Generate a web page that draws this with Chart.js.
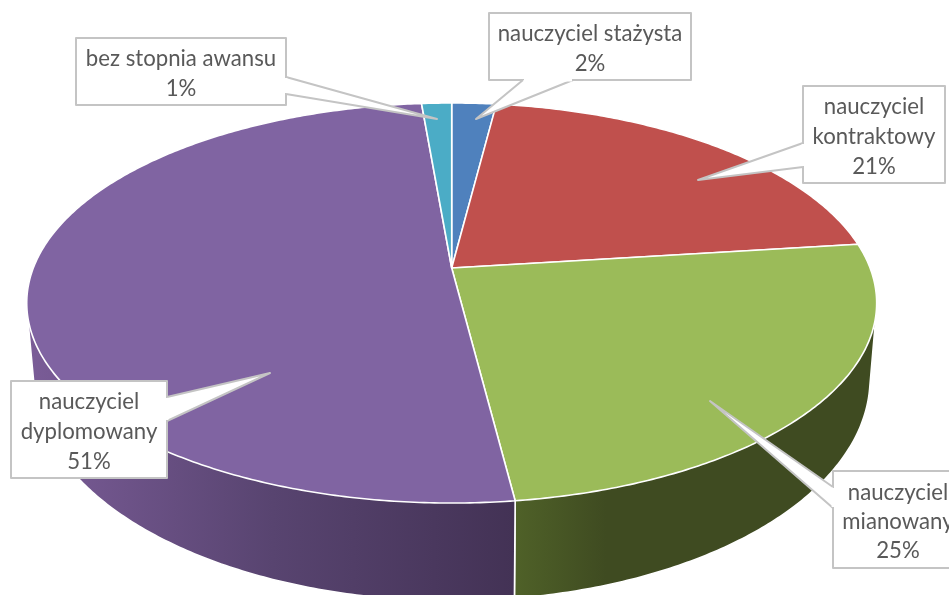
<!DOCTYPE html>
<html lang="pl">
<head>
<meta charset="utf-8">
<script src="https://cdn.jsdelivr.net/npm/chart.js@4"></script>
<style>
html,body{margin:0;padding:0;background:#fff;overflow:hidden}
canvas{display:block}
</style>
</head>
<body>
<canvas id="c" width="949" height="595"></canvas>
<script>
// --- data ---
const categories = ['nauczyciel stażysta','nauczyciel kontraktowy','nauczyciel mianowany','nauczyciel dyplomowany','bez stopnia awansu'];
const values = [2, 21, 25, 50.65, 1.35];
const labelLines = [['nauczyciel stażysta'],['nauczyciel','kontraktowy'],['nauczyciel','mianowany'],['nauczyciel','dyplomowany'],['bez stopnia awansu']];

// --- style ---
const topColors = ['#4f81bd','#c0504d','#9bbb59','#8064a2','#4bacc6'];
const wallStops = [
  [[0,'#2c4d75'],[1,'#2c4d75']],
  [[0,'#772c2a'],[1,'#772c2a']],
  [[0,'#4f6128'],[0.25,'#3f4b21'],[1,'#3f4b21']],
  [[0,'#7a5c97'],[0.5,'#584470'],[1,'#433255']],
  [[0,'#276a7c'],[1,'#276a7c']]
];
const wallGrad = [[0,949],[0,949],[515,880],[30,515],[0,949]];
// projection of the pie disc: top face and bottom rim
const topRim = {cx:451.7, y0:268, A:418.4, B:193.9, k:-0.175};
const lowRim = {cx:452, y0:340, A:411.6, B:215.2, k:-0.175};
// callouts: box [x0,y0,x1,y1], wedge polygon between box and tip, text centre, baselines
const callouts = [
  {box:[489,13,691,80], wedge:[[523,80],[476,119],[573,80]], tx:590, base:[41,71]},
  {box:[803,86,945,183], wedge:[[803,143],[698,180],[803,167]], tx:874, base:[114,144,174]},
  {box:[833,471,963,568], wedge:[[833,487],[710,401],[833,508]], tx:898, base:[500,529,558]},
  {box:[11,381,167,478], wedge:[[167,397],[270,373],[167,421]], tx:89, base:[409,439,469]},
  {box:[76,38,286,105], wedge:[[286,77],[437,119],[286,94]], tx:181, base:[66,96]}
];

function proj(p, a){
  const u = Math.cos(a), v = Math.sin(a), d = 1 + p.k * v;
  return [p.cx + p.A * u / d, p.y0 + p.B * v / d];
}
function arcPts(p, s, e){
  const n = Math.max(4, Math.ceil(Math.abs(e - s) / 0.01)), out = [];
  for (let i = 0; i <= n; i++) out.push(proj(p, s + (e - s) * i / n));
  return out;
}
function hull(pts){
  const a = pts.slice().sort((p, q) => p[0] - q[0] || p[1] - q[1]);
  const cross = (o, p, q) => (p[0]-o[0])*(q[1]-o[1]) - (p[1]-o[1])*(q[0]-o[0]);
  const lo = [], up = [];
  a.forEach(p => { while (lo.length > 1 && cross(lo[lo.length-2], lo[lo.length-1], p) <= 0) lo.pop(); lo.push(p); });
  a.slice().reverse().forEach(p => { while (up.length > 1 && cross(up[up.length-2], up[up.length-1], p) <= 0) up.pop(); up.push(p); });
  lo.pop(); up.pop();
  return lo.concat(up);
}

const pie3d = {
  id:'pie3d',
  beforeDatasetDraw(chart){
    const ctx = chart.ctx, arcs = chart.getDatasetMeta(0).data;
    ctx.save();
    ctx.lineJoin = 'round';
    // side walls
    arcs.forEach((el, i) => {
      const s = el.startAngle, e = el.endAngle;
      const pts = hull(arcPts(topRim, s, e).concat(arcPts(lowRim, e, s)));
      const g = ctx.createLinearGradient(wallGrad[i][0], 0, wallGrad[i][1], 0);
      wallStops[i].forEach(st => g.addColorStop(st[0], st[1]));
      ctx.beginPath();
      pts.forEach((q, j) => j ? ctx.lineTo(q[0], q[1]) : ctx.moveTo(q[0], q[1]));
      ctx.closePath();
      ctx.fillStyle = g; ctx.fill();
      ctx.strokeStyle = '#fff'; ctx.lineWidth = 1.6; ctx.stroke();
    });
    // top face
    arcs.forEach((el, i) => {
      const pts = arcPts(topRim, el.startAngle, el.endAngle);
      ctx.beginPath();
      ctx.moveTo(topRim.cx, topRim.y0);
      pts.forEach(q => ctx.lineTo(q[0], q[1]));
      ctx.closePath();
      ctx.fillStyle = topColors[i]; ctx.fill();
      ctx.strokeStyle = '#fff'; ctx.lineWidth = 1.6; ctx.stroke();
    });
    ctx.restore();
    return false;
  },
  afterDraw(chart){
    const ctx = chart.ctx;
    const total = values.reduce((a, b) => a + b, 0);
    ctx.save();
    ctx.lineJoin = 'round';
    callouts.forEach((c, i) => {
      const [x0, y0, x1, y1] = c.box, w = c.wedge;
      ctx.beginPath();
      ctx.rect(x0, y0, x1 - x0, y1 - y0);
      ctx.fillStyle = '#fff'; ctx.strokeStyle = '#c4c4c4'; ctx.lineWidth = 2;
      ctx.fill();
      ctx.stroke();
      ctx.beginPath();
      w.forEach((q, j) => j ? ctx.lineTo(q[0], q[1]) : ctx.moveTo(q[0], q[1]));
      ctx.closePath(); ctx.fill();
      ctx.beginPath();
      w.forEach((q, j) => j ? ctx.lineTo(q[0], q[1]) : ctx.moveTo(q[0], q[1]));
      ctx.stroke();
      // open the box border where the wedge joins it
      ctx.strokeStyle = '#fff'; ctx.lineWidth = 2.8;
      ctx.beginPath();
      const inset = (a, b) => { const dx = Math.sign(b[0]-a[0]), dy = Math.sign(b[1]-a[1]); return [[a[0]+dx,a[1]+dy],[b[0]-dx,b[1]-dy]]; };
      const seg = inset(w[0], w[2]);
      ctx.moveTo(seg[0][0], seg[0][1]); ctx.lineTo(seg[1][0], seg[1][1]);
      ctx.stroke();
      // text
      ctx.fillStyle = '#595959';
      ctx.font = '22.2px Lato';
      ctx.textAlign = 'center';
      ctx.textBaseline = 'alphabetic';
      const lines = labelLines[i].concat([Math.round(values[i] / total * 100) + '%']);
      lines.forEach((t, j) => ctx.fillText(t, c.tx, c.base[j]));
    });
    ctx.restore();
  }
};

new Chart(document.getElementById('c'), {
  type:'pie',
  data:{labels:categories, datasets:[{data:values, backgroundColor:topColors, borderColor:'#fff'}]},
  options:{
    responsive:false, animation:false,
    layout:{padding:0},
    plugins:{legend:{display:false}, tooltip:{enabled:false}}
  },
  plugins:[pie3d]
});
</script>
</body>
</html>
